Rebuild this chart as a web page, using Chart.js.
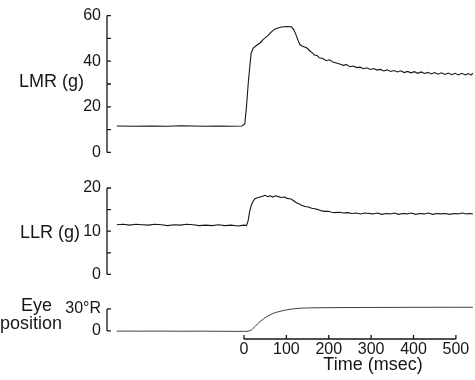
<!DOCTYPE html>
<html>
<head>
<meta charset="utf-8">
<script src="https://cdn.jsdelivr.net/npm/chart.js@4"></script>
<style>
  html, body { margin: 0; padding: 0; background: #fff; }
  #wrap { position: relative; width: 475px; height: 380px; overflow: hidden; }
  #wrap canvas { position: absolute; left: 0; }
</style>
</head>
<body>
<div id="wrap">
  <canvas id="lmr" width="475" height="168" style="top:0px"></canvas>
  <canvas id="llr" width="475" height="120" style="top:170px"></canvas>
  <canvas id="eye" width="475" height="90" style="top:290px"></canvas>
</div>
<script>
// x range shared by all three traces (msec)
const xMin = -323;
const xMax = 545;
const timeTicks = [0, 100, 200, 300, 400, 500];

// LMR (g)
const lmrTime = [-300, -260, -220, -180, -150, -120, -90, -60, -30, -5,
  2, 6, 10, 14, 17, 22, 30, 38, 45, 50, 57, 63, 68, 73, 80, 89, 100, 112, 117, 122, 128, 132,
  138, 148, 155, 160, 167, 172, 178, 186, 194, 202, 210, 218, 226, 234, 242, 250, 258, 266,
  274, 282, 290, 298, 306, 314, 322, 330, 338, 346, 354, 362, 370, 378, 386, 394, 402, 410,
  418, 426, 434, 442, 450, 458, 466, 474, 482, 490, 498, 506, 514, 522, 530, 536, 540];
const lmrValues = [11.6, 11.5, 11.6, 11.5, 11.7, 11.6, 11.5, 11.6, 11.5, 11.6,
  12.5, 20, 30, 38, 43.5, 45.8, 47, 48, 49.5, 50.2, 51.3, 52.5, 53.4, 54, 54.6, 55, 55.2, 55.1, 54, 52, 49, 47.3,
  46.6, 45.9, 44.6, 43.9, 42.6, 42.6, 41.5, 41.2, 40.2, 40.6, 39.6, 39.2, 38.8, 38.2, 38.5, 37.6, 37.9, 37.2,
  37.4, 36.7, 37.1, 36.4, 36.8, 36.1, 36.4, 35.7, 36.2, 35.5, 35.9, 35.3, 35.8, 35.0, 35.5, 34.9, 35.4, 34.7,
  35.3, 34.6, 35.1, 34.4, 35.0, 34.3, 34.9, 34.2, 34.8, 34.1, 34.7, 34.0, 34.7, 34.0, 34.6, 33.9, 34.8];

// LLR (g)
const llrTime = [-300, -285, -270, -255, -240, -225, -210, -195, -180, -165, -150, -135, -120, -105,
  -90, -75, -60, -45, -30, -15, 0, 6,
  10, 14, 18, 22, 26, 30, 38, 44, 50, 56, 62, 68, 74, 81, 88, 95, 102, 108, 112, 118, 124, 128,
  136, 144, 152, 160, 167, 175, 183, 191, 199, 207, 215, 225, 235, 245, 255, 265, 275, 285, 295,
  305, 315, 325, 335, 345, 355, 365, 375, 385, 395, 405, 415, 425, 435, 445, 455, 465, 475, 485,
  495, 505, 515, 525, 535, 540];
const llrValues = [11.5, 11.6, 11.4, 11.6, 11.5, 11.4, 11.6, 11.5, 11.3, 11.5, 11.4, 11.6, 11.5, 11.3,
  11.4, 11.3, 11.5, 11.3, 11.4, 11.2, 11.4, 11.3,
  12.5, 14.8, 16.2, 17.0, 17.5, 17.7, 17.9, 18.1, 18.3, 18.0, 18.2, 17.9, 18.2, 18.0, 17.8, 17.9, 17.6, 17.5, 17.4, 17.0, 16.6, 16.4,
  16.0, 15.7, 15.6, 15.3, 15.2, 15.0, 14.7, 14.6, 14.6, 14.4, 14.3, 14.4, 14.2, 14.3, 14.1, 14.2, 14.0, 14.2, 14.1,
  14.0, 14.2, 13.9, 14.1, 14.0, 14.2, 13.9, 14.1, 14.0, 14.2, 13.9, 14.1, 14.0, 14.2, 13.9, 14.1, 14.0, 14.1, 13.9,
  14.1, 14.0, 14.2, 14.0, 14.1, 14.0];

// Eye position (deg)
const eyeTime = [-300, -250, -200, -150, -100, -50, -20, 0, 10, 18, 26, 32, 38, 46, 54, 62, 69, 77, 85, 92,
  100, 115, 132, 160, 210, 300, 400, 540];
const eyeValues = [-0.2, -0.3, -0.2, -0.4, -0.3, -0.5, -0.6, -0.6, -0.5, 1.5, 5.9, 9.5, 12.7, 16.5, 19.5, 22, 24, 25.5, 26.6, 27.7,
  28.6, 30, 31, 31.5, 31.8, 32.0, 32.2, 32.3];

const ink = '#161616';
const fontFamily = '"Liberation Sans", Arial, sans-serif';
const tickFont = { family: fontFamily, size: 16 };

function toPoints(xs, ys) {
  return xs.map((x, i) => ({ x: x, y: ys[i] }));
}

// draws the bracket-style y axes, the partial time axis and the side labels
const framePlugin = {
  id: 'frame',
  afterDraw(chart, args, opts) {
    const ctx = chart.ctx;
    const ys = chart.scales.y;
    const xs = chart.scales.x;
    const left = chart.chartArea.left;
    ctx.save();
    ctx.strokeStyle = ink;
    ctx.lineWidth = 1.3;
    ctx.beginPath();
    ctx.moveTo(left, ys.getPixelForValue(opts.yMin));
    ctx.lineTo(left, ys.getPixelForValue(opts.yMax));
    for (let v = opts.yMin; v <= opts.yMax; v += opts.yStep) {
      const py = ys.getPixelForValue(v);
      ctx.moveTo(left, py);
      ctx.lineTo(left + 4, py);
    }
    if (opts.timeAxis) {
      const by = chart.chartArea.bottom;
      ctx.moveTo(xs.getPixelForValue(timeTicks[0]), by);
      ctx.lineTo(xs.getPixelForValue(timeTicks[timeTicks.length - 1]), by);
      timeTicks.forEach(t => {
        const px = xs.getPixelForValue(t);
        ctx.moveTo(px, by);
        ctx.lineTo(px, by - 4);
      });
    }
    ctx.stroke();
    ctx.fillStyle = ink;
    ctx.textBaseline = 'middle';
    (opts.labels || []).forEach(l => {
      ctx.font = (l.size || 18) + 'px ' + fontFamily;
      ctx.textAlign = l.align || 'left';
      ctx.fillText(l.text, l.x, l.y);
    });
    ctx.restore();
  }
};

function makeChart(id, xs, ys, cfg) {
  const ctx = document.getElementById(id).getContext('2d');
  return new Chart(ctx, {
    type: 'line',
    data: {
      datasets: [{
        data: toPoints(xs, ys),
        borderColor: cfg.color || ink,
        borderWidth: cfg.width || 1.1,
        pointRadius: 0,
        tension: 0,
        fill: false
      }]
    },
    options: {
      responsive: false,
      animation: false,
      layout: { padding: cfg.padding },
      plugins: {
        legend: { display: false },
        tooltip: { enabled: false },
        frame: cfg.frame
      },
      scales: {
        x: {
          type: 'linear',
          min: xMin,
          max: xMax,
          display: !!cfg.showTime,
          grid: { display: false, drawTicks: false },
          border: { display: false },
          afterBuildTicks: s => { s.ticks = timeTicks.map(v => ({ value: v })); },
          afterFit: s => { if (cfg.xHeight) s.height = cfg.xHeight; },
          ticks: { color: ink, font: tickFont, padding: 1, maxRotation: 0, autoSkip: false }
        },
        y: {
          min: cfg.yMin,
          max: cfg.yMax,
          grid: { display: false, drawTicks: false },
          border: { display: false },
          afterBuildTicks: s => { s.ticks = cfg.yTicks.map(v => ({ value: v })); },
          afterFit: s => { s.width = 107; },
          ticks: {
            color: ink,
            font: tickFont,
            padding: 6,
            callback: cfg.yLabel || (v => v)
          }
        }
      }
    },
    plugins: [framePlugin]
  });
}

makeChart('lmr', lmrTime, lmrValues, {
  yMin: 0, yMax: 60, yTicks: [0, 20, 40, 60],
  padding: { top: 10, bottom: 10, left: 0, right: 0 },
  frame: { yMin: 0, yMax: 60, yStep: 10, labels: [{ text: 'LMR (g)', x: 19, y: 82 }] }
});

makeChart('llr', llrTime, llrValues, {
  yMin: 0, yMax: 20, yTicks: [0, 10, 20],
  padding: { top: 18, bottom: 11, left: 0, right: 0 },
  frame: { yMin: 0, yMax: 20, yStep: 5, labels: [{ text: 'LLR (g)', x: 20, y: 63 }] }
});

makeChart('eye', eyeTime, eyeValues, {
  yMin: -11, yMax: 34, yTicks: [0, 30],
  yLabel: v => (v === 30 ? '30°R' : '0'),
  color: '#2a2a2a', width: 0.9,
  showTime: true, xHeight: 41,
  padding: { top: 16, bottom: 0, left: 0, right: 0 },
  frame: {
    yMin: 0, yMax: 30, yStep: 30, timeAxis: true,
    labels: [
      { text: 'Eye', x: 21, y: 16 },
      { text: 'position', x: 31, y: 34, align: 'center' },
      { text: 'Time (msec)', x: 373, y: 75, align: 'center' }
    ]
  }
});
</script>
</body>
</html>
